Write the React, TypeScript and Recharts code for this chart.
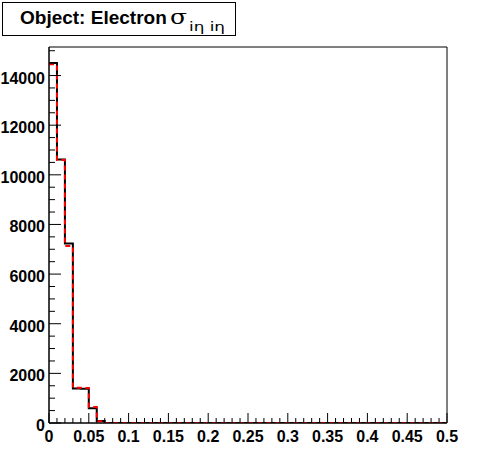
import React from 'react';
import { ComposedChart, Line, XAxis, YAxis, ReferenceArea } from 'recharts';

const binLowEdges = [
  0, 0.01, 0.02, 0.03, 0.04, 0.05, 0.06, 0.07, 0.08, 0.09,
  0.1, 0.11, 0.12, 0.13, 0.14, 0.15, 0.16, 0.17, 0.18, 0.19,
  0.2, 0.21, 0.22, 0.23, 0.24, 0.25, 0.26, 0.27, 0.28, 0.29,
  0.3, 0.31, 0.32, 0.33, 0.34, 0.35, 0.36, 0.37, 0.38, 0.39,
  0.4, 0.41, 0.42, 0.43, 0.44, 0.45, 0.46, 0.47, 0.48, 0.49, 0.5,
];

const blackCounts = [
  14510, 10620, 7230, 1390, 1380, 590, 80, 0, 0, 0,
  0, 0, 0, 0, 0, 0, 0, 0, 0, 0,
  0, 0, 0, 0, 0, 0, 0, 0, 0, 0,
  0, 0, 0, 0, 0, 0, 0, 0, 0, 0,
  0, 0, 0, 0, 0, 0, 0, 0, 0, 0, 0,
];

const redCounts = [
  14450, 10600, 7130, 1420, 1410, 640, 75, 0, 0, 0,
  0, 0, 0, 0, 0, 0, 0, 0, 0, 0,
  0, 0, 0, 0, 0, 0, 0, 0, 0, 0,
  0, 0, 0, 0, 0, 0, 0, 0, 0, 0,
  0, 0, 0, 0, 0, 0, 0, 0, 0, 0, 0,
];

const xTicks = [
  0, 0.01, 0.02, 0.03, 0.04, 0.05, 0.06, 0.07, 0.08, 0.09,
  0.1, 0.11, 0.12, 0.13, 0.14, 0.15, 0.16, 0.17, 0.18, 0.19,
  0.2, 0.21, 0.22, 0.23, 0.24, 0.25, 0.26, 0.27, 0.28, 0.29,
  0.3, 0.31, 0.32, 0.33, 0.34, 0.35, 0.36, 0.37, 0.38, 0.39,
  0.4, 0.41, 0.42, 0.43, 0.44, 0.45, 0.46, 0.47, 0.48, 0.49, 0.5,
];
const xLabels = ['0', '0.05', '0.1', '0.15', '0.2', '0.25', '0.3', '0.35', '0.4', '0.45', '0.5'];

const yTicks = [
  0, 500, 1000, 1500, 2000, 2500, 3000, 3500, 4000, 4500, 5000, 5500,
  6000, 6500, 7000, 7500, 8000, 8500, 9000, 9500, 10000, 10500, 11000,
  11500, 12000, 12500, 13000, 13500, 14000, 14500, 15000,
];
const yLabels = ['0', '2000', '4000', '6000', '8000', '10000', '12000', '14000'];

const titleMain = 'Object: Electron';
const titleSymbol = 'σ';
const titleSub = 'iη iη';

const data = binLowEdges.map((x, i) => ({ x, black: blackCounts[i], red: redCounts[i] }));

const FONT = '"Liberation Sans", Arial, sans-serif';

const fmtX = (v: number) => {
  const s = String(Math.round(v * 100) / 100);
  return s;
};

const XTick = (props: any) => {
  const { x, y, payload } = props;
  const v = payload.value as number;
  const label = fmtX(v);
  const major = xLabels.includes(label);
  return (
    <g>
      <line x1={x} x2={x} y1={y} y2={y - (major ? 10 : 5)} stroke="#000" strokeWidth={1} />
      {major && (
        <text x={x} y={y + 19} textAnchor="middle" fontFamily={FONT} fontWeight="bold" fontSize={16} fill="#000">
          {label}
        </text>
      )}
    </g>
  );
};

const YTick = (props: any) => {
  const { x, y, payload } = props;
  const v = payload.value as number;
  const label = String(v);
  const major = yLabels.includes(label);
  return (
    <g>
      <line x1={x} x2={x + (major ? 12 : 6)} y1={y} y2={y} stroke="#000" strokeWidth={1} />
      {major && (
        <text x={x - 4} y={y + 8} textAnchor="end" fontFamily={FONT} fontWeight="bold" fontSize={16} fill="#000">
          {label}
        </text>
      )}
    </g>
  );
};

export default function App() {
  return (
    <div style={{ position: 'absolute', left: 0, top: 0, width: 496, height: 472, background: '#fff' }}>
      <ComposedChart
        width={496}
        height={472}
        data={data}
        margin={{ top: 47, right: 49, bottom: 19, left: 0 }}
      >
        <XAxis
          dataKey="x"
          type="number"
          domain={[0, 0.5]}
          ticks={xTicks}
          interval={0}
          tick={<XTick />}
          tickLine={false}
          tickSize={0}
          tickMargin={0}
          height={30}
          axisLine={{ stroke: '#000', strokeWidth: 1 }}
          allowDataOverflow
        />
        <YAxis
          type="number"
          domain={[0, 15150]}
          ticks={yTicks}
          interval={0}
          tick={<YTick />}
          tickLine={false}
          tickSize={0}
          tickMargin={0}
          width={49}
          axisLine={{ stroke: '#000', strokeWidth: 1 }}
          allowDataOverflow
        />
        <ReferenceArea x1={0} x2={0.5} y1={0} y2={15150} fill="none" stroke="#000" strokeWidth={1} ifOverflow="visible" />
        <Line
          type="stepAfter"
          dataKey="black"
          stroke="#000"
          strokeWidth={2}
          dot={false}
          activeDot={false}
          isAnimationActive={false}
        />
        <Line
          type="stepAfter"
          dataKey="red"
          stroke="#ff0000"
          strokeWidth={2}
          strokeDasharray="5 4"
          dot={false}
          activeDot={false}
          isAnimationActive={false}
        />
      </ComposedChart>
      <svg width={496} height={472} style={{ position: 'absolute', left: 0, top: 0, pointerEvents: 'none' }}>
        <rect x={2.5} y={2.5} width={233} height={33} fill="#fff" stroke="#000" strokeWidth={1} />
        <text x={20} y={24} fontFamily={FONT} fontWeight="bold" fontSize={19} fill="#000">
          {titleMain}
        </text>
        <text x={170} y={24} fontFamily="'DejaVu Serif', serif" fontSize={20} fill="#000" textLength={17} lengthAdjust="spacingAndGlyphs">
          {titleSymbol}
        </text>
        <text x={189} y={31} fontFamily="'DejaVu Sans', sans-serif" fontSize={12} fill="#000" textLength={36} lengthAdjust="spacingAndGlyphs">
          {titleSub}
        </text>
      </svg>
    </div>
  );
}
